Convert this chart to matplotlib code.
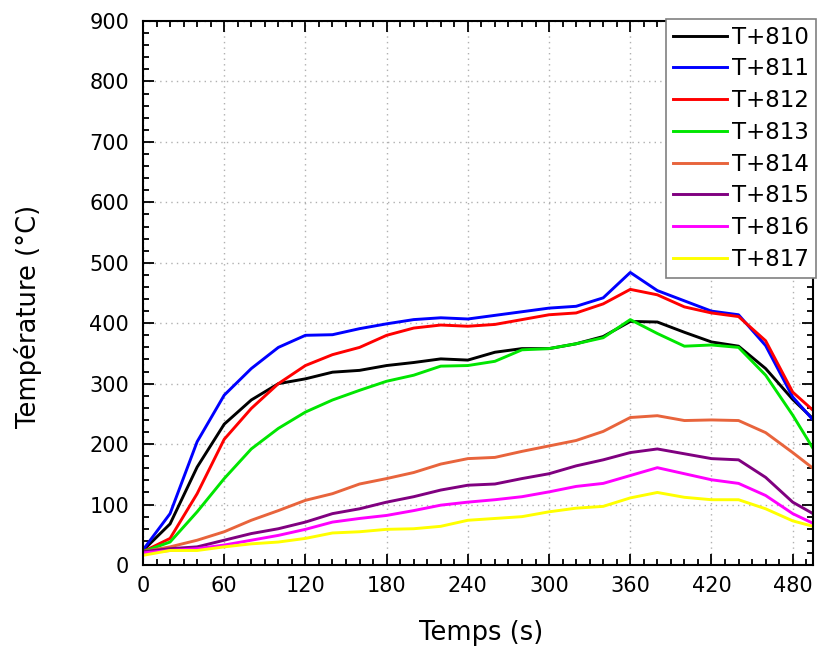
import matplotlib
matplotlib.use("Agg")
import matplotlib.pyplot as plt
from matplotlib.ticker import MultipleLocator

plt.rcParams['font.family'] = ['DejaVu Sans']

t = [0, 20, 40, 60, 80, 100, 120, 140, 160, 180, 200, 220, 240, 260, 280,
     300, 320, 340, 360, 380, 400, 420, 440, 460, 480, 495]

T810 = [24, 68, 162, 233, 273, 300, 308, 319, 322, 330, 335, 341, 339, 352, 358,
        358, 366, 378, 403, 402, 385, 369, 362, 325, 274, 242]
T811 = [25, 85, 204, 281, 325, 360, 380, 381, 391, 399, 406, 409, 407, 413, 419,
        425, 428, 442, 484, 454, 437, 420, 414, 363, 278, 240]
T812 = [22, 44, 118, 208, 259, 300, 330, 348, 360, 380, 392, 397, 395, 398, 406,
        414, 417, 432, 456, 447, 427, 417, 411, 371, 286, 256]
T813 = [22, 38, 88, 143, 192, 226, 253, 273, 289, 304, 314, 329, 330, 337, 356,
        358, 366, 376, 406, 383, 362, 364, 360, 314, 248, 193]
T814 = [22, 30, 41, 55, 74, 90, 107, 118, 134, 143, 153, 167, 176, 178, 188,
        197, 206, 221, 244, 247, 239, 240, 239, 219, 186, 160]
T815 = [22, 27, 30, 41, 52, 60, 71, 85, 93, 104, 113, 124, 132, 134, 143,
        151, 164, 174, 186, 192, 184, 176, 174, 145, 104, 85]
T816 = [20, 24, 27, 33, 41, 49, 59, 71, 77, 82, 90, 99, 104, 108, 113,
        121, 130, 135, 148, 161, 151, 141, 135, 115, 85, 69]
T817 = [16, 24, 24, 30, 35, 38, 44, 53, 55, 59, 60, 64, 74, 77, 80,
        88, 94, 97, 111, 120, 112, 108, 108, 93, 73, 64]

labels = ["T+810", "T+811", "T+812", "T+813", "T+814", "T+815", "T+816", "T+817"]
series = [T810, T811, T812, T813, T814, T815, T816, T817]
colors = ["#000000", "#0000FF", "#FF0000", "#00E600", "#E8643C", "#800080", "#FF00FF", "#FFFF00"]

xticks = [0, 60, 120, 180, 240, 300, 360, 420, 480]
yticks = [0, 100, 200, 300, 400, 500, 600, 700, 800, 900]

fig = plt.figure(figsize=(8.17, 6.57), dpi=100)
ax = fig.add_axes([143/817, 1-565/657, (813-143)/817, (565-21)/657])

for y, lab, c in zip(series, labels, colors):
    ax.plot(t, y, color=c, lw=2.1, label=lab)

ax.set_xlim(0, 495)
ax.set_ylim(0, 900)
ax.set_xticks(xticks)
ax.set_yticks(yticks)
ax.xaxis.set_minor_locator(MultipleLocator(10))
ax.yaxis.set_minor_locator(MultipleLocator(20))
ax.tick_params(which='both', direction='in', top=True, right=True, width=1.3,
               labelsize=15)
ax.tick_params(which='major', length=8)
ax.tick_params(which='minor', length=4.5)
ax.tick_params(axis='y', pad=10)
ax.tick_params(axis='x', pad=8)
for s in ax.spines.values():
    s.set_linewidth(1.5)
ax.grid(True, which='major', color='#b0b0b0', linestyle=(0, (1, 3)), lw=1)

ax.set_xlabel("Temps (s)", fontsize=18.5)
ax.set_ylabel("Température (°C)", fontsize=18.5)
ax.xaxis.label.set_va('center')
ax.yaxis.label.set_va('center')
ax.xaxis.set_label_coords(0.505, -0.125)
ax.yaxis.set_label_coords(-0.171, 0.456)

leg = ax.legend(loc='upper right', bbox_to_anchor=(1.004, 1.004), fontsize=16.5,
                frameon=True, fancybox=False, borderaxespad=0.0,
                handlelength=2.35, handletextpad=0.2, labelspacing=0.38,
                borderpad=0.3)
leg.get_frame().set_edgecolor('#808080')
leg.get_frame().set_linewidth(1.2)
leg.get_frame().set_alpha(1)

fig.savefig("out.png", dpi=100)
